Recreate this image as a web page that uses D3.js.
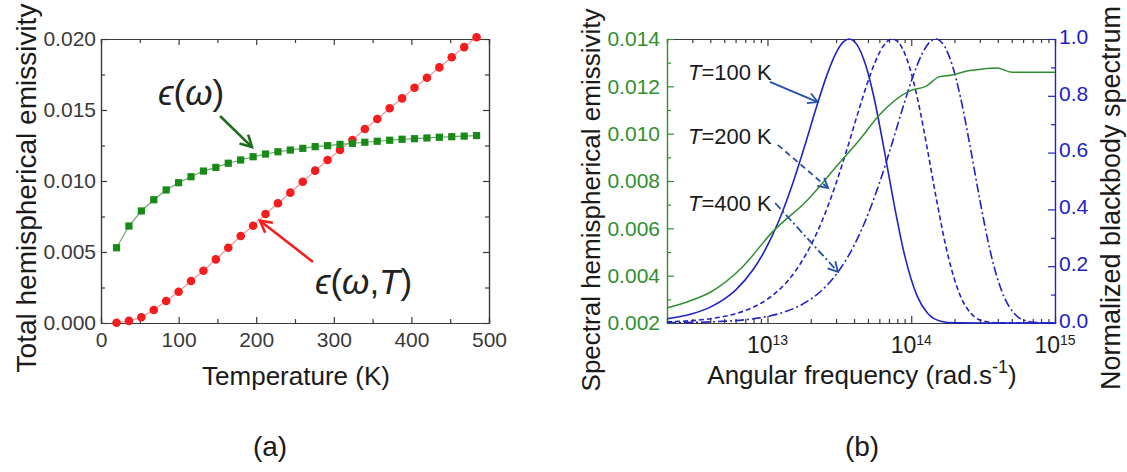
<!DOCTYPE html>
<html><head><meta charset="utf-8">
<script src="https://cdn.jsdelivr.net/npm/d3@7"></script>
<style>
body{margin:0;background:#fff}
text{font-family:"Liberation Sans",Arial,sans-serif}
</style>
</head><body>
<svg id="c" width="1127" height="472"></svg>
<script>
// ---------- Panel (a) data ----------
const tempK = [20,36,52,68,84,100,116,132,148,164,180,196,212,228,244,260,276,292,308,324,340,356,372,388,404,420,436,452,468,484];
const epsOmega = [0.0053,0.00683,0.00789,0.00868,0.00937,0.00988,0.0103,0.0107,0.01096,0.01125,0.01148,0.01171,0.0119,0.01206,0.01218,0.0123,0.01242,0.01249,0.01258,0.01265,0.01273,0.0128,0.01287,0.01294,0.01298,0.01303,0.01308,0.01312,0.01316,0.0132];
const epsOmegaT = [0.00002,0.00015,0.0004,0.00092,0.00155,0.0022,0.00296,0.00368,0.00448,0.0053,0.00613,0.00685,0.00768,0.00843,0.00918,0.00995,0.01073,0.01148,0.01218,0.01289,0.01366,0.01437,0.01512,0.01582,0.01657,0.01727,0.018,0.01871,0.01943,0.02012];
const tempTicks = [0,100,200,300,400,500];
const tempLabels = ["0","100","200","300","400","500"];
const emisTicksA = [0,0.005,0.010,0.015,0.020];
const emisLabelsA = ["0.000","0.005","0.010","0.015","0.020"];

// ---------- Panel (b) data ----------
const omegaSpec = [2e12,3e12,4e12,6.7e12,1.08e13,1.9e13,3.16e13,4.36e13,6e13,9.7e13,1.27e14,1.56e14,1.93e14,2.45e14,3.11e14,3.95e14,5e14,1e15];
const epsSpec = [0.00263,0.00297,0.0033,0.00437,0.00584,0.0072,0.00876,0.00973,0.01079,0.0118,0.01201,0.0124,0.01248,0.01265,0.01273,0.01277,0.0126,0.0126];

const omega100 = [2e12,3e12,4e12,5e12,6e12,8e12,1e13,1.2e13,1.5e13,1.8e13,2.2e13,2.6e13,3e13,3.4e13,3.7e13,4.2e13,4.8e13,5.5e13,6.5e13,7.5e13,9e13,1.1e14,1.3e14,1.6e14,2e14,3e14,1e15];
const bb100 = [0.0151,0.0327,0.056,0.084,0.116,0.190,0.273,0.360,0.492,0.6175,0.763,0.8755,0.9515,0.9916,1.0,0.9794,0.9107,0.795,0.607,0.4335,0.238,0.0946,0.034,0.0064,0.0006,0,0];

const omega200 = [2e12,4e12,6e12,8e12,1e13,1.2e13,1.6e13,2e13,2.4e13,3e13,3.6e13,4.4e13,5.2e13,6e13,6.8e13,7.4e13,8.4e13,9.6e13,1.1e14,1.3e14,1.5e14,1.8e14,2.2e14,2.6e14,3.2e14,4e14,6e14,1e15];
const bb200 = [0.004,0.0151,0.0327,0.056,0.084,0.116,0.190,0.273,0.360,0.492,0.6175,0.763,0.8755,0.9515,0.9916,1.0,0.9794,0.9107,0.795,0.607,0.4335,0.238,0.0946,0.034,0.0064,0.0006,0,0];

const omega400 = [2e12,4e12,8e12,1.2e13,1.6e13,2e13,2.4e13,3.2e13,4e13,4.8e13,6e13,7.2e13,8.8e13,1.04e14,1.2e14,1.36e14,1.48e14,1.68e14,1.92e14,2.2e14,2.6e14,3e14,3.6e14,4.4e14,5.2e14,6.4e14,8e14,1e15];
const bb400 = [0.001,0.004,0.0151,0.0327,0.056,0.084,0.116,0.190,0.273,0.360,0.492,0.6175,0.763,0.8755,0.9515,0.9916,1.0,0.9794,0.9107,0.795,0.607,0.4335,0.238,0.0946,0.034,0.0064,0.0006,0];

const freqTicks = [1e13,1e14,1e15];
const freqExponents = ["13","14","15"];
const emisTicksB = [0.002,0.004,0.006,0.008,0.010,0.012,0.014];
const emisLabelsB = ["0.002","0.004","0.006","0.008","0.010","0.012","0.014"];
const bbTicks = [0,0.2,0.4,0.6,0.8,1.0];
const bbLabels = ["0.0","0.2","0.4","0.6","0.8","1.0"];

// ---------- drawing ----------
const svg = d3.select("#c");
const AX = "#3a3a3a";
const GREEN = "#2f8f2f", BLUE = "#2121c8", ARROWBLUE = "#2650a6";

function arrow(g, x1, y1, x2, y2, color, width, dash, head) {
  g.append("line").attr("x1",x1).attr("y1",y1).attr("x2",x2).attr("y2",y2)
    .attr("stroke",color).attr("stroke-width",width).attr("stroke-dasharray",dash||null);
  const a = Math.atan2(y2-y1, x2-x1), L = head||12, h = 0.5;
  const p = [[x2 - L*Math.cos(a-h), y2 - L*Math.sin(a-h)],[x2,y2],[x2 - L*Math.cos(a+h), y2 - L*Math.sin(a+h)]];
  g.append("path").attr("d", d3.line()(p)).attr("fill","none").attr("stroke",color)
    .attr("stroke-width",width).attr("stroke-linejoin","miter");
}

// ===== Panel (a) =====
const xA = d3.scaleLinear([0,500],[101,489]);
const yA = d3.scaleLinear([0,0.02],[323,39]);
const gA = svg.append("g");

function styleAxis(sel, color) {
  sel.selectAll("path,line").attr("stroke", color).attr("stroke-width",1.2);
  sel.selectAll("text").attr("fill", color).style("font-size","21px").attr("font-family",'"Liberation Sans",Arial,sans-serif');
}

// minor ticks
const minorT = d3.range(50,500,100);
const minorE = [0.0025,0.0075,0.0125,0.0175];
gA.append("g").attr("transform","translate(0,323)").call(d3.axisBottom(xA).tickValues(minorT).tickSize(-4).tickFormat("")).call(s=>styleAxis(s,AX));
gA.append("g").attr("transform","translate(0,39)").call(d3.axisTop(xA).tickValues(minorT).tickSize(-4).tickFormat("")).call(s=>styleAxis(s,AX));
gA.append("g").attr("transform","translate(101,0)").call(d3.axisLeft(yA).tickValues(minorE).tickSize(-4).tickFormat("")).call(s=>styleAxis(s,AX));
gA.append("g").attr("transform","translate(489,0)").call(d3.axisRight(yA).tickValues(minorE).tickSize(-4).tickFormat("")).call(s=>styleAxis(s,AX));
// major
gA.append("g").attr("transform","translate(0,323)")
  .call(d3.axisBottom(xA).tickValues(tempTicks).tickSize(-6).tickSizeOuter(0).tickPadding(9).tickFormat((d,i)=>tempLabels[i]))
  .call(s=>styleAxis(s,AX));
gA.append("g").attr("transform","translate(0,39)")
  .call(d3.axisTop(xA).tickValues(tempTicks).tickSize(-6).tickSizeOuter(0).tickFormat("")).call(s=>styleAxis(s,AX));
gA.append("g").attr("transform","translate(101,0)")
  .call(d3.axisLeft(yA).tickValues(emisTicksA).tickSize(-6).tickSizeOuter(0).tickPadding(5).tickFormat((d,i)=>emisLabelsA[i]))
  .call(s=>styleAxis(s,AX));
gA.append("g").attr("transform","translate(489,0)")
  .call(d3.axisRight(yA).tickValues(emisTicksA).tickSize(-6).tickSizeOuter(0).tickFormat("")).call(s=>styleAxis(s,AX));

// lines
const ptsG = tempK.map((t,i)=>[t,epsOmega[i]]);
const ptsR = tempK.map((t,i)=>[t,epsOmegaT[i]]);
const lineA = d3.line().x(d=>xA(d[0])).y(d=>yA(d[1]));
gA.append("path").attr("d",lineA(ptsR)).attr("fill","none").attr("stroke","#f39a9a").attr("stroke-width",1.3);
gA.append("path").attr("d",lineA(ptsG)).attr("fill","none").attr("stroke","#6aa86a").attr("stroke-width",1.2);
gA.selectAll("circle.r").data(ptsR).join("circle").attr("cx",d=>xA(d[0])).attr("cy",d=>yA(d[1])).attr("r",4.3).attr("fill","#f41c1c");
gA.selectAll("rect.g").data(ptsG).join("rect").attr("x",d=>xA(d[0])-3.6).attr("y",d=>yA(d[1])-3.6).attr("width",7.2).attr("height",7.2).attr("fill","#178a17");

// annotations (in data units)
const tA1 = gA.append("text").attr("x",xA(73.5)).attr("y",yA(0.01535)).attr("font-family","DejaVu Serif").style("font-size","35px").attr("fill","#222");
tA1.append("tspan").attr("font-style","italic").text("ϵ");
tA1.append("tspan").text("(");
tA1.append("tspan").attr("font-style","italic").text("ω");
tA1.append("tspan").text(")");
const tA2 = gA.append("text").attr("x",xA(275.8)).attr("y",yA(0.00204)).attr("font-family","DejaVu Serif").style("font-size","35px").attr("fill","#222");
tA2.append("tspan").attr("font-style","italic").text("ϵ");
tA2.append("tspan").text("(");
tA2.append("tspan").attr("font-style","italic").text("ω");
tA2.append("tspan").text(",");
tA2.append("tspan").attr("font-style","italic").text("T");
tA2.append("tspan").text(")");
arrow(gA, xA(153.4), yA(0.01458), xA(194.6), yA(0.01239), "#1d6e1d", 2.6, null, 13);
arrow(gA, xA(273.2), yA(0.0043), xA(204.9), yA(0.0072), "#f42020", 2.6, null, 13);

// titles
gA.append("text").attr("x",296).attr("y",385).attr("text-anchor","middle").style("font-size","26px").attr("fill","#1a1a1a").text("Temperature (K)");
gA.append("text").attr("transform","translate(36,188) rotate(-90)").attr("text-anchor","middle").style("font-size","28px").attr("fill","#1a1a1a").text("Total hemispherical emissivity");
gA.append("text").attr("x",270).attr("y",456).attr("text-anchor","middle").style("font-size","28px").attr("fill","#1a1a1a").text("(a)");

// ===== Panel (b) =====
const xB = d3.scaleLog([2e12,1e15],[667,1055]);
const yB = d3.scaleLinear([0.002,0.014],[323,39]);
const yB2 = d3.scaleLinear([0,1],[323,39]);
const gB = svg.append("g");

const minorF = xB.ticks().filter(v=>!freqTicks.some(t=>Math.abs(t-v)/t<1e-6));
const minorEB = [0.003,0.005,0.007,0.009,0.011,0.013];
const minorBB = [0.1,0.3,0.5,0.7,0.9];
gB.append("g").attr("transform","translate(0,323)").call(d3.axisBottom(xB).tickValues(minorF).tickSize(-4).tickFormat("")).call(s=>styleAxis(s,AX));
gB.append("g").attr("transform","translate(0,39)").call(d3.axisTop(xB).tickValues(minorF).tickSize(-4).tickFormat("")).call(s=>styleAxis(s,AX));
gB.append("g").attr("transform","translate(667,0)").call(d3.axisLeft(yB).tickValues(minorEB).tickSize(-4).tickFormat("")).call(s=>styleAxis(s,GREEN));
gB.append("g").attr("transform","translate(1055,0)").call(d3.axisRight(yB2).tickValues(minorBB).tickSize(-4).tickFormat("")).call(s=>styleAxis(s,BLUE));

gB.append("g").attr("transform","translate(0,323)")
  .call(d3.axisBottom(xB).tickValues(freqTicks).tickSize(-7).tickSizeOuter(0).tickFormat("")).call(s=>styleAxis(s,AX));
gB.append("g").attr("transform","translate(0,39)")
  .call(d3.axisTop(xB).tickValues(freqTicks).tickSize(-7).tickSizeOuter(0).tickFormat("")).call(s=>styleAxis(s,AX));
gB.append("g").attr("transform","translate(667,0)")
  .call(d3.axisLeft(yB).tickValues(emisTicksB).tickSize(-7).tickSizeOuter(0).tickPadding(7).tickFormat((d,i)=>emisLabelsB[i]))
  .call(s=>styleAxis(s,GREEN));
gB.append("g").attr("transform","translate(1055,0)")
  .call(d3.axisRight(yB2).tickValues(bbTicks).tickSize(-7).tickSizeOuter(0).tickPadding(4).tickFormat((d,i)=>bbLabels[i]))
  .call(s=>{styleAxis(s,BLUE); s.selectAll("text").attr("dy","0.2em");});

// log tick labels with superscripts
freqTicks.forEach((v,i)=>{
  const t = gB.append("text").attr("x",xB(v)).attr("y",353).attr("text-anchor","middle").attr("fill","#1a1a1a").style("font-size","23px");
  t.append("tspan").text("10");
  t.append("tspan").attr("dy",-8).style("font-size","14px").text(freqExponents[i]);
});

// curves
const lineSpec = d3.line().x(d=>xB(d[0])).y(d=>yB(d[1])).curve(d3.curveMonotoneX);
const lineBB = d3.line().x(d=>xB(d[0])).y(d=>yB2(d[1])).curve(d3.curveMonotoneX);
gB.append("path").attr("d",lineBB(omega100.map((w,i)=>[w,bb100[i]]))).attr("fill","none").attr("stroke",BLUE).attr("stroke-width",1.6);
gB.append("path").attr("d",lineBB(omega200.map((w,i)=>[w,bb200[i]]))).attr("fill","none").attr("stroke",BLUE).attr("stroke-width",1.6).attr("stroke-dasharray","5,3");
gB.append("path").attr("d",lineBB(omega400.map((w,i)=>[w,bb400[i]]))).attr("fill","none").attr("stroke",BLUE).attr("stroke-width",1.6).attr("stroke-dasharray","9,3,2,3");
gB.append("path").attr("d",lineSpec(omegaSpec.map((w,i)=>[w,epsSpec[i]]))).attr("fill","none").attr("stroke",GREEN).attr("stroke-width",1.5);

// annotations
const labelsT = [{T:"100", w:2.8e12, b:0.856},{T:"200", w:2.8e12, b:0.63},{T:"400", w:2.8e12, b:0.394}];
labelsT.forEach(d=>{
  const t = gB.append("text").attr("x",xB(d.w)).attr("y",yB2(d.b)).style("font-size","22px").attr("fill","#1a1a1a");
  t.append("tspan").attr("font-style","italic").text("T");
  t.append("tspan").text("=" + d.T + " K");
});
arrow(gB, xB(1.04e13), yB2(0.849), xB(2.24e13), yB2(0.778), ARROWBLUE, 1.8, null, 11);
arrow(gB, xB(1.18e13), yB2(0.627), xB(2.64e13), yB2(0.475), ARROWBLUE, 1.8, "6,4", 11);
arrow(gB, xB(1.13e13), yB2(0.4225), xB(3.09e13), yB2(0.18), ARROWBLUE, 1.8, "8,3,2,3", 11);

// titles
const tx = gB.append("text").attr("x",862).attr("y",384).attr("text-anchor","middle").style("font-size","26px").attr("fill","#1a1a1a");
tx.append("tspan").text("Angular frequency (rad.s");
tx.append("tspan").attr("dy",-11).style("font-size","18px").text("-1");
tx.append("tspan").attr("dy",11).text(")");
gB.append("text").attr("transform","translate(600,200) rotate(-90)").attr("text-anchor","middle").style("font-size","26px").attr("fill","#1a1a1a").text("Spectral hemispherical emissivity");
gB.append("text").attr("transform","translate(1120,198) rotate(-90)").attr("text-anchor","middle").style("font-size","27px").attr("fill","#1a1a1a").text("Normalized blackbody spectrum");
gB.append("text").attr("x",862).attr("y",456).attr("text-anchor","middle").style("font-size","28px").attr("fill","#1a1a1a").text("(b)");
</script>
</body></html>
